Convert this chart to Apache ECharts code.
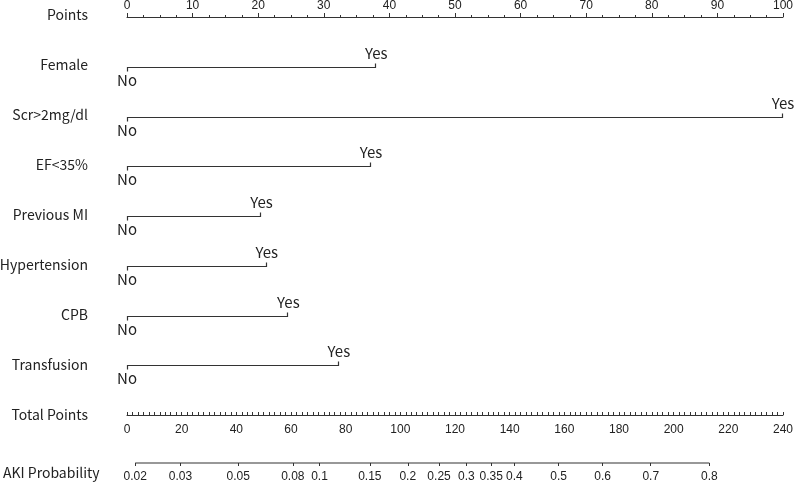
<!DOCTYPE html>
<html><head><meta charset="utf-8">
<script src="https://cdn.jsdelivr.net/npm/echarts@6/dist/echarts.min.js"></script>
<style>html,body{margin:0;padding:0;background:#fff}#c{width:796px;height:483px}</style>
</head><body><div id="c"></div>
<script>
// ---- data ----
const variables = ['Female', 'Scr>2mg/dl', 'EF<35%', 'Previous MI', 'Hypertension', 'CPB', 'Transfusion'];
const noPoints = [0, 0, 0, 0, 0, 0, 0];
const yesPoints = [38, 100, 37.2, 20.5, 21.3, 24.6, 32.3];
const levelLabels = ['No', 'Yes'];
const pointsRange = [0, 100];
const totalRange = [0, 240];
const probTicks = [0.02, 0.03, 0.05, 0.08, 0.1, 0.15, 0.2, 0.25, 0.3, 0.35, 0.4, 0.5, 0.6, 0.7, 0.8];
const lpIntercept = -3.967;   // linear predictor = intercept + slope * total points
const lpSlope = 0.02524;

function tpOfProb(p) { return (Math.log(p / (1 - p)) - lpIntercept) / lpSlope; }
const probTickTP = probTicks.map(tpOfProb);

const labelFont = '"Noto Sans CJK SC", "Noto Sans", sans-serif';
const numFont = '"Liberation Sans", Arial, sans-serif';
const ink = '#222';
const lineCol = '#333';
const lf = '14px ' + labelFont;

const rowLabels = ['Points'].concat(variables, ['Total Points']);
const graphics = rowLabels.map((t, i) => ({
  type: 'text', x: 88, y: 15 + 50 * i,
  style: { text: t, font: lf, fill: ink, align: 'right', verticalAlign: 'middle' }
}));
graphics.push({ type: 'text', x: 3, y: 473, style: { text: 'AKI Probability', font: lf, fill: ink, align: 'left', verticalAlign: 'middle' } });

const chart = echarts.init(document.getElementById('c'));
chart.setOption({
  animation: false,
  backgroundColor: '#fff',
  graphic: graphics,
  grid: [
    { left: 127, right: 10, top: 15, height: 450 },
    { left: 127, right: 10, top: 365, height: 50 },
    { left: 127, right: 10, top: 415, height: 50 }
  ],
  xAxis: [
    { gridIndex: 0, type: 'value', position: 'top', min: pointsRange[0], max: pointsRange[1], interval: 10,
      splitLine: { show: false },
      axisLine: { show: true, lineStyle: { color: lineCol, width: 1 } },
      axisTick: { show: true, length: 4, lineStyle: { color: lineCol } },
      minorTick: { show: true, splitNumber: 4, length: 2, lineStyle: { color: lineCol } },
      axisLabel: { fontSize: 12, fontFamily: numFont, color: ink, margin: 5 } },
    { gridIndex: 1, type: 'value', position: 'bottom', min: totalRange[0], max: totalRange[1], interval: 20,
      splitLine: { show: false },
      axisLine: { show: true, lineStyle: { color: lineCol, width: 1 } },
      axisTick: { show: true, inside: true, length: 3, lineStyle: { color: lineCol } },
      minorTick: { show: true, splitNumber: 10, length: 3, lineStyle: { color: lineCol } },
      axisLabel: { fontSize: 12, fontFamily: numFont, color: ink, margin: 9 } },
    { gridIndex: 2, type: 'value', position: 'bottom', min: totalRange[0], max: totalRange[1],
      splitLine: { show: false },
      axisLine: { show: false },
      axisTick: { show: true, length: 3, customValues: probTickTP, lineStyle: { color: lineCol } },
      axisLabel: { fontSize: 12, fontFamily: numFont, color: ink, margin: 8, customValues: probTickTP,
        formatter: function (v) {
          let best = 0, bd = Infinity;
          probTickTP.forEach((t, i) => { const d = Math.abs(t - v); if (d < bd) { bd = d; best = i; } });
          return String(probTicks[best]);
        } } }
  ],
  yAxis: [
    { gridIndex: 0, type: 'value', min: 0, max: 9, inverse: true, show: false },
    { gridIndex: 1, type: 'value', min: 0, max: 1, show: false },
    { gridIndex: 2, type: 'value', min: 0, max: 1, show: false }
  ],
  series: [
    { type: 'custom', xAxisIndex: 0, yAxisIndex: 0, clip: false,
      data: variables.map((v, i) => [noPoints[i], yesPoints[i], i + 1]),
      renderItem: function (params, api) {
        const a = api.coord([api.value(0), api.value(2)]);
        const b = api.coord([api.value(1), api.value(2)]);
        const y = Math.round(a[1]) + 0.5;
        const x0 = Math.round(a[0]) + 0.5, x1 = Math.round(b[0]) - 0.5;
        return { type: 'group', children: [
          { type: 'polyline', shape: { points: [[x0, y + 4], [x0, y], [x1, y], [x1, y - 4]] },
            style: { stroke: lineCol, lineWidth: 1.2, fill: null } },
          { type: 'text', x: a[0], y: y + 5,
            style: { text: levelLabels[0], font: '15px ' + labelFont, fill: ink, align: 'center', verticalAlign: 'top' } },
          { type: 'text', x: b[0], y: y - 7,
            style: { text: levelLabels[1], font: '15px ' + labelFont, fill: ink, align: 'center', verticalAlign: 'bottom' } }
        ] };
      } },
    { type: 'line', xAxisIndex: 2, yAxisIndex: 2, clip: false, showSymbol: false, silent: true,
      lineStyle: { color: lineCol, width: 1.2 },
      data: [[probTickTP[0], 0], [probTickTP[probTickTP.length - 1], 0]] }
  ]
});
</script></body></html>
